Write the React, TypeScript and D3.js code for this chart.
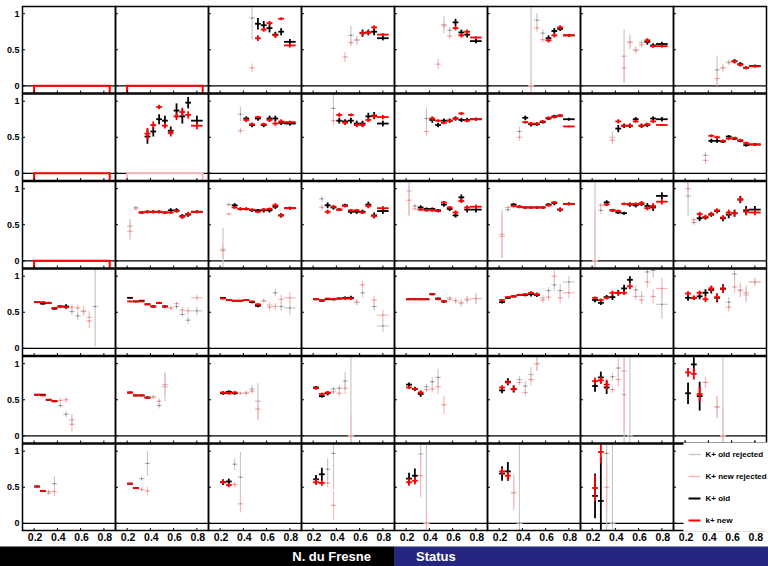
import * as d3 from "d3";

// bin centres (last bin is twice as wide)
const binCenters = [0.225, 0.275, 0.325, 0.375, 0.425, 0.475, 0.525, 0.575, 0.625, 0.675, 0.725, 0.8];
const binHalf = [0.025, 0.025, 0.025, 0.025, 0.025, 0.025, 0.025, 0.025, 0.025, 0.025, 0.025, 0.05];

const xTicks = [0.2, 0.4, 0.6, 0.8];
const xTickLabels = ["0.2", "0.4", "0.6", "0.8"];
const yTicks = [0, 0.5, 1];
const yTickLabels = ["0", "0.5", "1"];

const legendLabels = ["K+ old rejected", "K+ new rejected", "K+ old", "k+ new"];

// empty histograms (drawn as a flat outline)
const emptyNewPanels = [0, 1, 8, 16];
const emptyNewRejectedPanels = [9];

type Pt = [number, number, number]; // [bin, value, error]

// panels listed row by row, 8 per row
const oldRejected: Pt[][] = [
  [], [], [[5, .94, .3]], [[6, .7, .13], [7, .63, .06]], [[6, .85, .12], [7, .77, .05]],
  [[5, 0, 1.3], [6, .91, .1], [7, .73, .05]], [[5, .41, .37], [6, .61, .1], [7, .5, .05], [8, .6, .04]],
  [[5, .22, .2], [6, .25, .05], [7, .33, .03]],
  [], [], [[3, .82, .1]], [[3, .9, .2]], [[3, .76, .15]], [[3, .58, .07]], [[3, .5, .08]], [[3, .25, .05]],
  [], [[0, .48, .1], [1, .74, .02]], [[0, .16, .3], [1, .78, .03]], [[1, .86, .04]],
  [[0, .97, .35], [1, .76, .03]], [[0, .37, .33], [1, .71, .03]], [[0, 0, 1.3], [1, .7, .05]],
  [[0, .9, .28], [1, .53, .03]],
  [[6, .51, .05], [7, .45, .06], [8, .52, .07], [9, .43, .09], [10, .58, .55]],
  [[7, .56, .03], [8, .58, .04], [9, .47, .04], [10, .39, .05], [11, .52, .06]],
  [[7, .66, .03], [8, .6, .04], [9, .77, .05], [10, .58, .06], [11, .56, .1]],
  [[7, .64, .04], [8, .77, .06], [10, .58, .06], [11, .31, .08]],
  [[7, .7, .03], [8, .66, .04], [9, .63, .05], [10, .67, .05], [11, .69, .08]],
  [[7, .7, .04], [8, .8, .05], [9, .88, .08], [10, .8, .1], [11, .92, .08]],
  [[7, .81, .06], [8, .72, .07], [9, 1.06, .1], [10, 1.08, .1], [11, .61, .2]],
  [[7, .64, .07], [8, 1.03, .1], [9, .81, .1], [10, .74, .1], [11, .92, .06]],
  [[4, .42, .03], [5, .3, .04], [6, .22, .08]],
  [[4, .54, .03], [5, .42, .04], [6, .68, .2]],
  [[3, .59, .02], [4, .6, .03], [5, .65, .05], [6, .48, .25]],
  [[3, .65, .03], [4, .66, .04], [5, .76, .12], [6, 0, 1.3]],
  [[3, .68, .04], [4, .75, .06], [5, .81, .12]],
  [[3, .78, .05], [4, .69, .07], [5, .85, .1], [6, 1.0, .1]],
  [[3, .82, .06], [4, .94, .15], [5, .9, 1.1], [6, 0, 1.3]],
  [[3, .74, .06], [5, .4, .15], [6, 0, 1.3]],
  [[2, .42, .03], [3, .55, .1]], [[2, .62, .03], [3, .83, .17]], [[2, .82, .08], [3, .64, .35]],
  [[2, .75, .15], [3, .97, .5]], [[2, .96, .2], [3, 0, 1.3]], [[2, .43, .25], [3, 0, 1.3]],
  [[2, .97, 1.2], [3, 0, 1.3]], [],
];

const newRejected: Pt[][] = [
  [], [], [[5, .25, .06]], [[5, .4, .07], [6, .6, .05], [7, .64, .05]],
  [[5, .3, .07], [6, .83, .05], [7, .69, .04]], [[5, 0, .1], [6, .8, .05], [7, .64, .04]],
  [[5, .25, .19], [6, .6, .06], [7, .49, .04], [8, .57, .04]], [[5, .1, .1], [6, .25, .04], [7, .32, .03]],
  [], [], [[3, .59, .04]], [[3, .73, .06]], [[3, .58, .06]], [[3, .5, .05]], [[3, .46, .06]], [[3, .18, .05]],
  [], [[0, .41, .12], [1, .72, .02]], [[0, .14, .1], [1, .65, .02]], [[1, .74, .04]],
  [[0, .84, .2], [1, .72, .02]], [[0, .34, .3], [1, .74, .02]], [[0, 0, .7], [1, .77, .03]],
  [[0, 1.0, .1], [1, .57, .03]],
  [[6, .57, .04], [7, .56, .05], [8, .51, .06], [9, .38, .1]],
  [[7, .56, .03], [8, .62, .03], [9, .53, .04], [10, .52, .05], [11, .7, .04]],
  [[7, .66, .03], [8, .57, .05], [9, .58, .05], [10, .68, .06], [11, .7, .08]],
  [[7, .64, .04], [8, .88, .05], [10, .67, .06], [11, .46, .08]],
  [[7, .68, .03], [8, .66, .04], [9, .63, .05], [10, .68, .05], [11, .69, .06]],
  [[7, .67, .04], [8, .71, .05], [9, 1.0, .08], [10, .7, .08], [11, .77, .08]],
  [[7, .72, .05], [8, .67, .06], [9, .92, .08], [10, .72, .1], [11, .83, .15]],
  [[7, .57, .06], [8, .85, .08], [9, .8, .08], [10, .77, .1], [11, .92, .04]],
  [[4, .49, .03], [5, .5, .04], [6, .16, .1]],
  [[4, .54, .03], [5, .48, .04], [6, .71, .15]],
  [[3, .59, .02], [4, .59, .03], [5, .62, .04], [6, .37, .15]],
  [[3, .61, .03], [4, .59, .04], [5, .66, .08], [6, 0, .3]],
  [[3, .64, .03], [4, .65, .05], [5, .68, .1], [6, .43, .13]],
  [[3, .74, .04], [4, .6, .05], [5, .78, .08], [6, 1.0, .1]],
  [[3, .64, .05], [4, .78, .1], [5, .57, .5]],
  [[3, .74, .08], [5, .4, .15], [6, 0, .4]],
  [[2, .44, .03], [3, .44, .06]], [[2, .47, .03], [3, .45, .06]], [[2, .54, .04], [3, .27, .12]],
  [[2, .56, .06], [3, .25, .2]], [[2, .66, .3], [3, 0, .2]], [[2, .42, .2]], [[2, .5, .3]], [],
];

const oldK: Pt[][] = [
  [], [],
  [[6, .86, .08], [7, .84, .06], [8, .8, .06], [9, .71, .04], [10, .75, .05], [11, .61, .04]],
  [[8, .73, .05], [9, .74, .04], [10, .75, .05], [11, .66, .03]],
  [[8, .88, .05], [9, .74, .04], [10, .71, .04], [11, .62, .03]],
  [[8, .66, .04], [9, .76, .04], [10, .79, .03], [11, .7, .02]],
  [[9, .61, .04], [10, .56, .03], [11, .58, .03]],
  [[8, .34, .03], [9, .3, .03], [10, .25, .02], [11, .275, .02]],
  [],
  [[3, .51, .1], [4, .58, .07], [5, .75, .07], [6, .73, .07], [7, .59, .06], [8, .87, .1], [9, .79, .1], [10, .98, .08], [11, .73, .07]],
  [[4, .76, .03], [5, .67, .03], [6, .76, .03], [7, .67, .03], [8, .76, .04], [9, .76, .04], [10, .7, .03], [11, .69, .03]],
  [[4, .73, .04], [5, .72, .03], [6, .73, .04], [7, .69, .04], [8, .69, .04], [9, .79, .05], [10, .8, .05], [11, .69, .04]],
  [[4, .74, .04], [5, .67, .03], [6, .73, .03], [7, .73, .03], [8, .76, .03], [9, .74, .03], [10, .74, .03], [11, .75, .02]],
  [[4, .77, .03], [5, .68, .03], [6, .68, .02], [7, .71, .02], [8, .76, .02], [9, .79, .02], [10, .8, .02], [11, .75, .02]],
  [[4, .62, .05], [5, .66, .03], [6, .66, .03], [7, .75, .03], [8, .66, .03], [9, .67, .03], [10, .76, .03], [11, .75, .03]],
  [[4, .45, .03], [5, .45, .03], [6, .44, .02], [7, .51, .02], [8, .48, .02], [9, .45, .02], [10, .39, .02], [11, .4, .02]],
  [],
  [[2, .67, .02], [3, .68, .02], [4, .68, .02], [5, .68, .02], [6, .67, .02], [7, .7, .03], [8, .7, .03], [9, .62, .03], [10, .64, .03], [11, .68, .02]],
  [[2, .77, .03], [3, .72, .02], [4, .72, .02], [5, .7, .02], [6, .7, .02], [7, .7, .03], [8, .7, .03], [9, .75, .03], [10, .63, .03], [11, .73, .02]],
  [[2, .77, .04], [3, .74, .03], [4, .71, .02], [5, .77, .02], [6, .68, .03], [7, .68, .03], [8, .68, .03], [9, .78, .04], [10, .63, .04], [11, .69, .04]],
  [[2, .74, .03], [3, .72, .02], [4, .72, .02], [5, .7, .02], [6, .78, .03], [7, .72, .03], [8, .63, .03], [9, .88, .04], [10, .71, .04], [11, .71, .04]],
  [[2, .78, .02], [3, .75, .02], [4, .74, .02], [5, .74, .02], [6, .74, .02], [7, .74, .02], [8, .78, .02], [9, .8, .03], [10, .71, .03], [11, .79, .02]],
  [[2, .81, .03], [3, .7, .02], [4, .67, .02], [5, .66, .02], [6, .78, .03], [7, .77, .03], [8, .79, .03], [9, .76, .04], [10, .74, .05], [11, .9, .05]],
  [[2, .59, .04], [3, .6, .03], [4, .64, .03], [5, .69, .03], [6, .59, .04], [7, .64, .05], [8, .66, .05], [9, .85, .05], [10, .7, .06], [11, .71, .05]],
  [[0, .64, .01], [1, .62, .015], [2, .63, .015], [3, .55, .015], [4, .58, .02], [5, .58, .03]],
  [[0, .7, .01], [1, .65, .01], [2, .66, .01], [3, .61, .01], [4, .58, .015], [5, .63, .015], [6, .58, .02]],
  [[0, .7, .01], [1, .67, .01], [2, .66, .01], [3, .66, .01], [4, .67, .01], [5, .64, .015], [6, .59, .02]],
  [[0, .68, .01], [1, .66, .01], [2, .68, .01], [3, .68, .015], [4, .69, .015], [5, .7, .02], [6, .7, .03]],
  [[0, .68, .01], [1, .68, .01], [2, .68, .01], [3, .68, .01], [4, .75, .015], [5, .69, .015], [6, .65, .02]],
  [[0, .64, .02], [1, .7, .015], [2, .72, .015], [3, .74, .015], [4, .74, .02], [5, .75, .03], [6, .74, .03]],
  [[0, .67, .03], [1, .63, .03], [2, .71, .03], [3, .71, .04], [4, .77, .04], [5, .83, .05], [6, .95, .05]],
  [[0, .7, .04], [1, .7, .03], [2, .72, .04], [3, .77, .05], [4, .81, .05], [5, .7, .06], [6, .83, .06]],
  [[0, .57, .01], [1, .57, .01], [2, .5, .01], [3, .48, .015]],
  [[0, .6, .01], [1, .56, .01], [2, .56, .01], [3, .53, .015]],
  [[0, .59, .02], [1, .61, .02], [2, .59, .02]],
  [[0, .67, .02], [1, .55, .02], [2, .59, .03]],
  [[0, .71, .03], [1, .65, .03], [2, .58, .04]],
  [[0, .63, .04], [1, .75, .05], [2, .65, .05]],
  [[0, .69, .08], [1, .81, .08], [2, .67, .09]],
  [[0, .59, .15], [1, .99, .1], [2, .55, .2]],
  [[0, .51, .01], [1, .45, .01]], [[0, .55, .01], [1, .49, .015]], [[0, .57, .04], [1, .58, .04]],
  [[0, .61, .06], [1, .68, .09]], [[0, .62, .08], [1, .66, .1]], [[0, .69, .1], [1, .72, .13]],
  [[0, .38, .31], [1, .31, .6]], [],
];

const newK: Pt[][] = [
  [], [],
  [[6, .66, .04], [7, .78, .03], [8, .87, .03], [9, .7, .03], [10, .93, .02], [11, .56, .03]],
  [[8, .73, .04], [9, .74, .03], [10, .81, .03], [11, .71, .02]],
  [[8, .8, .03], [9, .7, .03], [10, .75, .03], [11, .67, .02]],
  [[8, .63, .03], [9, .7, .03], [10, .81, .03], [11, .7, .02]],
  [[9, .63, .03], [10, .55, .02], [11, .55, .02]],
  [[8, .34, .02], [9, .29, .02], [10, .25, .02], [11, .27, .015]],
  [],
  [[3, .55, .08], [4, .67, .05], [5, .92, .03], [6, .66, .04], [7, .56, .05], [8, .79, .05], [9, .85, .06], [10, .81, .05], [11, .66, .05]],
  [[4, .74, .03], [5, .68, .02], [6, .78, .02], [7, .68, .02], [8, .74, .03], [9, .69, .03], [10, .72, .03], [11, .71, .02]],
  [[4, .81, .03], [5, .7, .03], [6, .81, .02], [7, .67, .03], [8, .67, .03], [9, .74, .03], [10, .79, .03], [11, .78, .03]],
  [[4, .76, .03], [5, .73, .02], [6, .7, .02], [7, .73, .02], [8, .76, .02], [9, .83, .02], [10, .73, .02], [11, .75, .02]],
  [[4, .71, .02], [5, .69, .02], [6, .69, .02], [7, .72, .02], [8, .77, .02], [9, .78, .02], [10, .8, .02], [11, .65, .01]],
  [[4, .72, .03], [5, .66, .02], [6, .66, .02], [7, .72, .02], [8, .66, .02], [9, .68, .02], [10, .72, .02], [11, .67, .01]],
  [[4, .52, .02], [5, .5, .02], [6, .45, .02], [7, .48, .02], [8, .49, .02], [9, .46, .02], [10, .42, .02], [11, .4, .01]],
  [],
  [[2, .67, .02], [3, .68, .02], [4, .68, .02], [5, .68, .02], [6, .67, .02], [7, .67, .02], [8, .69, .02], [9, .61, .03], [10, .65, .03], [11, .68, .02]],
  [[2, .74, .02], [3, .72, .02], [4, .72, .02], [5, .71, .02], [6, .68, .02], [7, .71, .02], [8, .72, .02], [9, .77, .03], [10, .63, .03], [11, .73, .02]],
  [[2, .68, .03], [3, .75, .02], [4, .71, .02], [5, .76, .02], [6, .7, .02], [7, .7, .02], [8, .67, .02], [9, .76, .03], [10, .62, .03], [11, .73, .03]],
  [[2, .71, .02], [3, .7, .02], [4, .7, .02], [5, .69, .02], [6, .81, .02], [7, .74, .02], [8, .67, .03], [9, .83, .03], [10, .74, .03], [11, .75, .03]],
  [[2, .76, .02], [3, .75, .02], [4, .74, .02], [5, .74, .02], [6, .74, .02], [7, .74, .02], [8, .77, .02], [9, .81, .02], [10, .71, .02], [11, .79, .02]],
  [[2, .78, .02], [3, .7, .02], [4, .69, .02], [5, .79, .02], [6, .79, .02], [7, .79, .02], [8, .8, .03], [9, .73, .03], [10, .76, .04], [11, .82, .04]],
  [[2, .65, .03], [3, .61, .03], [4, .65, .03], [5, .7, .03], [6, .6, .03], [7, .67, .04], [8, .66, .04], [9, .85, .04], [10, .68, .05], [11, .67, .04]],
  [[0, .64, .01], [1, .64, .01], [2, .63, .01], [3, .56, .01], [4, .58, .015], [5, .57, .02]],
  [[0, .65, .01], [1, .65, .01], [2, .65, .01], [3, .61, .01], [4, .58, .01], [5, .63, .01], [6, .58, .015]],
  [[0, .69, .01], [1, .67, .01], [2, .66, .01], [3, .66, .01], [4, .67, .01], [5, .65, .01], [6, .61, .015]],
  [[0, .68, .01], [1, .67, .01], [2, .69, .01], [3, .68, .01], [4, .69, .01], [5, .69, .015], [6, .69, .02]],
  [[0, .68, .01], [1, .68, .01], [2, .68, .01], [3, .68, .01], [4, .75, .01], [5, .68, .01], [6, .65, .015]],
  [[0, .67, .015], [1, .71, .01], [2, .72, .01], [3, .74, .01], [4, .75, .015], [5, .77, .02], [6, .75, .02]],
  [[0, .7, .02], [1, .67, .02], [2, .7, .02], [3, .77, .03], [4, .77, .03], [5, .77, .03], [6, .86, .04]],
  [[0, .76, .03], [1, .7, .03], [2, .77, .03], [3, .68, .04], [4, .83, .04], [5, .71, .05], [6, .82, .05]],
  [[0, .57, .01], [1, .56, .01], [2, .5, .01], [3, .48, .01]],
  [[0, .6, .01], [1, .56, .01], [2, .56, .01], [3, .53, .01]],
  [[0, .6, .02], [1, .59, .02], [2, .6, .02]],
  [[0, .66, .02], [1, .58, .02], [2, .6, .02]],
  [[0, .67, .02], [1, .65, .02], [2, .6, .03]],
  [[0, .67, .03], [1, .74, .03], [2, .65, .04]],
  [[0, .76, .05], [1, .77, .05], [2, .71, .07]],
  [[0, .88, .06], [1, .86, .08], [2, .58, .1]],
  [[0, .51, .01], [1, .45, .01]], [[0, .55, .01], [1, .49, .01]], [[0, .57, .03], [1, .53, .03]],
  [[0, .57, .04], [1, .56, .04]], [[0, .57, .05], [1, .59, .05]], [[0, .72, .05], [1, .66, .06]],
  [[0, .49, .18], [1, .99, .16]], [],
];

const W = 768;
const H = 566;
const NCOL = 8;
const NROW = 6;
const left0 = 22.5;
const colW = 93;
const top0 = 6.5;
const rowPitch = 87.5;
const panelH = 86.5;
const FONT = "'Liberation Sans', Arial, Helvetica, sans-serif";

const series = [
  { data: oldRejected, color: "#c8c8c8", width: 1.2, dot: "#555" },
  { data: newRejected, color: "#f7baba", width: 1.2, dot: "#c66" },
  { data: oldK, color: "#000000", width: 1.8, dot: null },
  { data: newK, color: "#ff0000", width: 1.8, dot: null },
];

const x = d3.scaleLinear().domain([0.1, 0.9]).range([0, colW]);
const y = d3.scaleLinear().domain([-0.1, 1.1]).range([panelH, 0]).clamp(true);

function Cross({ p, color, width, dot }: { p: Pt; color: string; width: number; dot: string | null }) {
  const [b, v, e] = p;
  const c = binCenters[b];
  const cx = x(c);
  const cy = y(v);
  return (
    <g>
      <line x1={cx} x2={cx} y1={y(v - e)} y2={y(v + e)} stroke={color} strokeWidth={width} />
      {v >= -0.1 && v <= 1.1 && (
        <line x1={x(c - binHalf[b])} x2={x(c + binHalf[b])} y1={cy} y2={cy} stroke={color} strokeWidth={width} />
      )}
      {dot && <rect x={cx - 0.6} y={cy - 0.6} width={1.2} height={1.2} fill={dot} />}
    </g>
  );
}

function Panel({ idx }: { idx: number }) {
  const col = idx % NCOL;
  const row = Math.floor(idx / NCOL);
  const px = left0 + col * colW;
  const py = top0 + row * rowPitch;
  const boxColor = emptyNewPanels.includes(idx) ? "#ff0000" : emptyNewRejectedPanels.includes(idx) ? "#f7baba" : null;
  return (
    <g transform={`translate(${px},${py})`}>
      <line x1={0} x2={colW} y1={y(0)} y2={y(0)} stroke="#000" strokeWidth={1.3} />
      {boxColor && (
        <path
          d={`M${x(0.2)},${y(-0.1)}V${y(0)}H${x(0.85)}V${y(-0.1)}`}
          fill="none"
          stroke={boxColor}
          strokeWidth={2}
        />
      )}
      {series.map((s, si) => (
        <g key={si}>
          {s.data[idx].map((p, i) => (
            <Cross key={i} p={p} color={s.color} width={s.width} dot={s.dot} />
          ))}
        </g>
      ))}
      {yTicks.map((t) => (
        <line key={t} x1={0} x2={2.5} y1={y(t)} y2={y(t)} stroke="#000" strokeWidth={1} />
      ))}
      {xTicks.map((t) => (
        <line key={t} x1={x(t)} x2={x(t)} y1={panelH} y2={panelH - 2.5} stroke="#000" strokeWidth={1} />
      ))}
      <rect x={0} y={0} width={colW} height={panelH} fill="none" stroke="#000" strokeWidth={1.5} />
    </g>
  );
}

export default function App() {
  const panels = d3.range(NCOL * NROW);
  const bottomY = top0 + (NROW - 1) * rowPitch + panelH;
  const legendColors = series.map((s) => s.color);
  const legendX = left0 + (NCOL - 1) * colW + 10;
  const legendTop = top0 + (NROW - 1) * rowPitch - 1.5;
  return (
    <svg
      width={W}
      height={H}
      style={{ position: "absolute", left: 0, top: 0, background: "#fff" }}
      fontFamily={FONT}
    >
      {panels.map((i) => (
        <Panel key={i} idx={i} />
      ))}

      {/* y tick labels on first column */}
      {d3.range(NROW).map((r) =>
        yTicks.map((t, k) => (
          <text
            key={`${r}-${t}`}
            x={19.5}
            y={top0 + r * rowPitch + y(t)}
            dy="0.35em"
            textAnchor="end"
            fontSize={9}
            fontWeight="bold"
          >
            {yTickLabels[k]}
          </text>
        ))
      )}

      {/* x tick labels under the bottom row */}
      {d3.range(NCOL).map((c) =>
        xTicks.map((t, k) => (
          <text
            key={`${c}-${t}`}
            x={left0 + c * colW + x(t) + 1}
            y={bottomY + 10.5}
            textAnchor="middle"
            fontSize={10.5}
            fontWeight="bold"
          >
            {xTickLabels[k]}
          </text>
        ))
      )}

      {/* legend in the last panel */}
      <rect x={legendX} y={legendTop} width={W - legendX} height={bottomY - legendTop + 1} fill="#fff" />
      {xTicks.map((t) => (
        <line
          key={t}
          x1={left0 + (NCOL - 1) * colW + x(t)}
          x2={left0 + (NCOL - 1) * colW + x(t)}
          y1={legendTop}
          y2={legendTop - 2}
          stroke="#000"
          strokeWidth={1}
        />
      ))}
      {legendLabels.map((lab, i) => {
        const ly = legendTop + 12 + i * 22;
        return (
          <g key={lab}>
            <line
              x1={legendX + 5}
              x2={legendX + 17}
              y1={ly}
              y2={ly}
              stroke={legendColors[i]}
              strokeWidth={i < 2 ? 1.5 : 2}
            />
            <text x={legendX + 22} y={ly} dy="0.35em" fontSize={8} fontWeight="bold">
              {lab}
            </text>
          </g>
        );
      })}

      {/* footer bar */}
      <rect x={0} y={546.5} width={394} height={H - 546.5} fill="#000" />
      <rect x={394} y={546.5} width={W - 394} height={H - 546.5} fill="#25267f" />
      <text x={371} y={561} textAnchor="end" fill="#fff" fontSize={13} fontWeight="bold">
        N. du Fresne
      </text>
      <text x={416} y={561} fill="#fff" fontSize={13} fontWeight="bold">
        Status
      </text>
    </svg>
  );
}
